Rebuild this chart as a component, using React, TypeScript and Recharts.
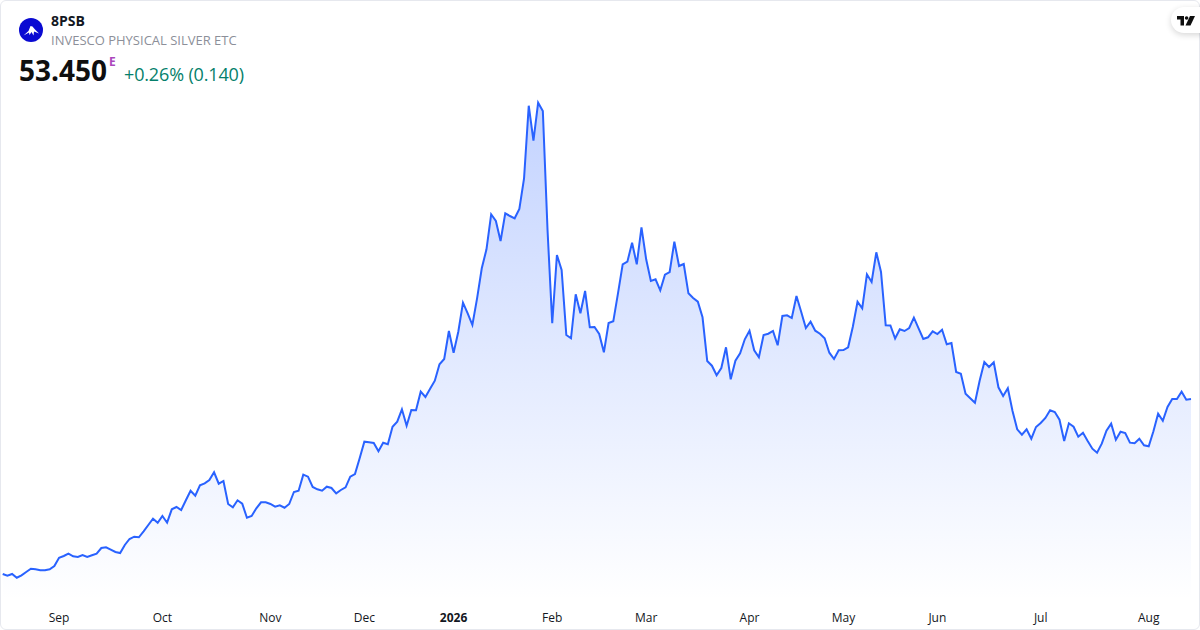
import { AreaChart, Area, XAxis, YAxis } from "recharts";

const closes = [
  35.95, 35.78, 35.95, 35.58, 35.82, 36.15, 36.48, 36.42, 36.32, 36.32,
  36.42, 36.75, 37.58, 37.75, 37.98, 37.72, 37.65, 37.85, 37.65, 37.82,
  37.98, 38.55, 38.62, 38.38, 38.15, 38.05, 38.85, 39.45, 39.68, 39.62,
  40.22, 40.85, 41.48, 41.08, 41.75, 41.08, 42.42, 42.65, 42.35, 43.32,
  44.28, 43.78, 44.82, 45.02, 45.35, 46.12, 44.98, 45.25, 42.95, 42.62,
  43.32, 42.98, 41.58, 41.75, 42.52, 43.12, 43.12, 42.95, 42.68, 42.82,
  42.58, 42.95, 44.15, 44.28, 45.88, 45.68, 44.65, 44.42, 44.28, 44.68,
  44.55, 44.02, 44.35, 44.62, 45.68, 45.95, 47.52, 49.18, 49.12, 49.05,
  48.22, 49.08, 48.92, 50.68, 51.18, 52.42, 50.78, 52.35, 52.32, 54.18,
  53.65, 54.48, 55.28, 56.92, 57.45, 60.25, 58.08, 60.18, 63.08, 62.02,
  60.85, 63.52, 66.52, 68.42, 71.92, 71.25, 69.25, 72.02, 71.75, 71.52,
  72.45, 75.52, 82.78, 79.28, 83.08, 82.25, 70.35, 61.02, 67.85, 66.35,
  59.85, 59.52, 63.92, 62.02, 64.25, 60.62, 60.65, 59.95, 58.12, 61.05,
  61.22, 64.02, 66.92, 67.18, 69.08, 66.92, 70.62, 67.42, 65.25, 65.42,
  64.32, 65.88, 66.15, 69.18, 66.75, 66.95, 64.02, 63.55, 63.18, 61.62,
  57.25, 56.78, 55.82, 56.55, 58.62, 55.42, 57.28, 58.02, 59.42, 60.28,
  58.32, 57.62, 59.85, 59.98, 60.25, 58.82, 61.75, 61.82, 61.55, 63.75,
  62.18, 60.55, 61.18, 60.28, 59.98, 59.52, 58.08, 57.45, 58.32, 58.35,
  58.62, 60.68, 63.18, 62.52, 65.92, 65.15, 68.12, 66.15, 60.82, 60.8,
  59.5, 60.43, 60.25, 60.55, 61.58, 60.52, 59.45, 59.62, 60.22, 59.95,
  60.38, 58.92, 59.05, 56.15, 55.98, 53.98, 53.52, 53.08, 55.28, 57.15,
  56.65, 57.12, 54.62, 53.75, 54.52, 52.25, 50.42, 49.88, 50.42, 49.48,
  50.65, 51.05, 51.55, 52.32, 52.15, 51.38, 49.25, 51.02, 50.68, 49.68,
  50.08, 49.25, 48.48, 48.08, 48.98, 50.28, 50.98, 49.38, 50.18, 50.05,
  49.08, 49.02, 49.48, 48.82, 48.72, 50.22, 51.98, 51.28, 52.65, 53.45,
  53.45, 54.18, 53.38, 53.45,
];
const monthTicks = [12, 34, 57, 77, 96, 117, 137, 159, 179, 199, 221, 244];
const monthLabels = ["Sep", "Oct", "Nov", "Dec", "2026", "Feb", "Mar", "Apr", "May", "Jun", "Jul", "Aug"];

const chartData = closes.map((close, session) => ({ session, close }));
const FONT = "'Open Sans', 'Noto Sans', sans-serif";

function MonthTick({ x, y, payload }: any) {
  const label = monthLabels[monthTicks.indexOf(payload.value)];
  return (
    <text
      x={x}
      y={y}
      dy={14}
      textAnchor="middle"
      fontFamily={FONT}
      fontSize={12}
      fontWeight={label === "2026" ? 700 : 400}
      fill="#131722"
    >
      {label}
    </text>
  );
}

export default function App() {
  return (
    <div style={{ position: "absolute", left: 0, top: 0, width: 1200, height: 630, background: "#fff", overflow: "hidden", fontFamily: FONT }}>
      <AreaChart
        width={1200}
        height={630}
        data={chartData}
        margin={{ top: 90, right: 9, bottom: 0, left: 2.7 }}
      >
        <defs>
          <linearGradient id="silverFill" x1="0" y1="0" x2="0" y2="1">
            <stop offset="0%" stopColor="#2962ff" stopOpacity={0.28} />
            <stop offset="100%" stopColor="#2962ff" stopOpacity={0} />
          </linearGradient>
        </defs>
        <XAxis
          dataKey="session"
          type="number"
          domain={[0, 253]}
          ticks={monthTicks}
          height={30}
          axisLine={false}
          tickLine={false}
          interval={0}
          tick={<MonthTick />}
        />
        <YAxis hide domain={[33.35, 84.35]} />
        <Area
          type="linear"
          dataKey="close"
          stroke="#2962ff"
          strokeWidth={2}
          fill="url(#silverFill)"
          fillOpacity={1}
          dot={false}
          activeDot={false}
          isAnimationActive={false}
        />
      </AreaChart>

      {/* card border */}
      <div style={{ position: "absolute", inset: 0, border: "1px solid #e6e8ee", borderRadius: 6, boxSizing: "border-box", pointerEvents: "none" }} />

      {/* header */}
      <svg width={24} height={24} style={{ position: "absolute", left: 19, top: 18 }}>
        <circle cx={12} cy={12} r={12} fill="#0a0ad2" />
        <path d="M4.5 17.5 L9.5 13 L11.5 8 L13.5 8.5 L16 11.5 L20 15.5 L15 13.5 L14.5 17.5 L12.5 14 L10.5 17 L10 14.5 Z" fill="#fff" />
      </svg>
      <div style={{ position: "absolute", left: 51, top: 12, fontSize: 14, fontWeight: 700, lineHeight: "18px", color: "#131722" }}>8PSB</div>
      <div style={{ position: "absolute", left: 51, top: 31, fontSize: 13, lineHeight: "18px", color: "#8c8f99", whiteSpace: "nowrap" }}>INVESCO PHYSICAL SILVER ETC</div>
      <div style={{ position: "absolute", left: 19, top: 51, fontSize: 28, fontWeight: 700, lineHeight: "38px", color: "#0f0f0f" }}>53.450</div>
      <div style={{ position: "absolute", left: 109, top: 54, fontSize: 12, fontWeight: 700, lineHeight: "15px", color: "#ab47bc" }}>E</div>
      <div style={{ position: "absolute", left: 124, top: 62, fontSize: 18, letterSpacing: -0.15, lineHeight: "25px", color: "#057f6b", whiteSpace: "nowrap" }}>+0.26% (0.140)</div>

      {/* TradingView badge */}
      <div style={{ position: "absolute", left: 1171, top: 7, width: 50, height: 26, borderRadius: 13, background: "#fff", boxShadow: "0 2px 6px rgba(0,0,0,0.16)" }} />
      <svg width={18} height={10} viewBox="0 0 18 10" style={{ position: "absolute", left: 1177, top: 16 }}>
        <path d="M0 0 H7 V9.5 H3.5 V3.5 H0 Z" fill="#0f0f0f" />
        <circle cx={9.6} cy={2} r={1.8} fill="#0f0f0f" />
        <path d="M13 0 H18 L13.5 9.5 H8.5 Z" fill="#0f0f0f" />
      </svg>
    </div>
  );
}
